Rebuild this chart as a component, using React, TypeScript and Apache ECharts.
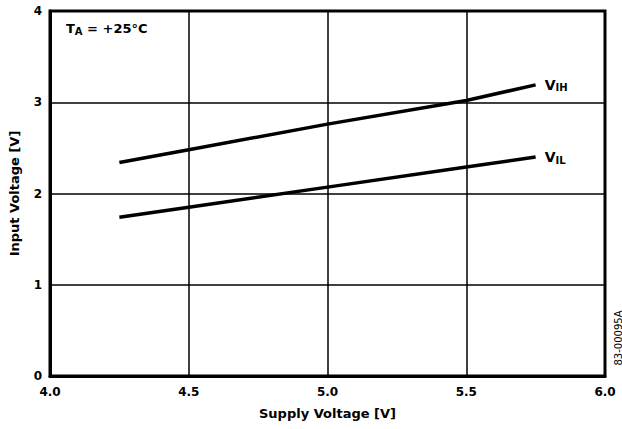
import React, { useEffect, useRef } from "react";
import * as echarts from "echarts";

const supplyV = [4.25, 4.5, 5.0, 5.5, 5.75];
const vihValues = [2.34, 2.48, 2.76, 3.02, 3.19];
const vilValues = [1.74, 1.85, 2.07, 2.29, 2.4];
const xTicks = [4.0, 4.5, 5.0, 5.5, 6.0];
const yTicks = [0, 1, 2, 3, 4];

const FONT = "'DejaVu Sans', 'Liberation Sans', Arial, sans-serif";

export default function App() {
  const ref = useRef<HTMLDivElement>(null);
  useEffect(() => {
    if (!ref.current) return;
    const chart = echarts.init(ref.current, undefined, { renderer: "svg" });
    const pair = (xs: number[], ys: number[]) => xs.map((x, i) => [x, ys[i]]);
    const endLabel = (sub: string) => ({
      show: true,
      distance: 9,
      formatter: `{v|V}{s|${sub}}`,
      rich: {
        v: { fontFamily: FONT, fontWeight: "bold", fontSize: 14, color: "#000" },
        s: { fontFamily: FONT, fontWeight: "bold", fontSize: 10, color: "#000", padding: [6, 0, 0, 0] },
      },
    });
    chart.setOption({
      animation: false,
      backgroundColor: "#fff",
      textStyle: { fontFamily: FONT },
      grid: {
        left: 48,
        right: 17,
        top: 11,
        bottom: 53,
        show: true,
        borderColor: "#000",
        borderWidth: 3,
      },
      xAxis: {
        type: "value",
        min: 4.0,
        max: 6.0,
        interval: 0.5,
        name: "Supply Voltage [V]",
        nameLocation: "middle",
        nameGap: 31,
        nameTextStyle: { fontFamily: FONT, fontWeight: "bold", fontSize: 13, color: "#000" },
        axisLine: { show: true, lineStyle: { color: "#000", width: 3 } },
        axisTick: { show: false },
        axisLabel: {
          fontFamily: FONT,
          fontWeight: "bold",
          fontSize: 12,
          color: "#000",
          margin: 10,
          formatter: (v: number) => (xTicks.includes(v) ? v.toFixed(1) : ""),
        },
        splitLine: { show: true, lineStyle: { color: "#000", width: 1.5 } },
      },
      yAxis: {
        type: "value",
        min: 0,
        max: 4,
        interval: 1,
        name: "Input Voltage [V]",
        nameLocation: "middle",
        nameGap: 29,
        nameTextStyle: { fontFamily: FONT, fontWeight: "bold", fontSize: 13, color: "#000" },
        axisLine: { show: true, lineStyle: { color: "#000", width: 3 } },
        axisTick: { show: false },
        axisLabel: {
          fontFamily: FONT,
          fontWeight: "bold",
          fontSize: 12,
          color: "#000",
          margin: 8,
          formatter: (v: number) => (yTicks.includes(v) ? String(v) : ""),
        },
        splitLine: { show: true, lineStyle: { color: "#000", width: 1.5 } },
      },
      series: [
        {
          name: "VIH",
          type: "line",
          data: pair(supplyV, vihValues),
          symbol: "none",
          lineStyle: { color: "#000", width: 3.5 },
          endLabel: endLabel("IH"),
        },
        {
          name: "VIL",
          type: "line",
          data: pair(supplyV, vilValues),
          symbol: "none",
          lineStyle: { color: "#000", width: 3.5 },
          endLabel: endLabel("IL"),
        },
      ],
      graphic: [
        {
          type: "text",
          left: 66,
          top: 22,
          style: {
            text: "{t|T}{s|A}{t| = +25°C}",
            rich: {
              t: { fontFamily: FONT, fontWeight: "bold", fontSize: 13, fill: "#000" },
              s: { fontFamily: FONT, fontWeight: "bold", fontSize: 10, fill: "#000", padding: [6, 0, 0, 0] },
            },
          },
        },
        {
          type: "text",
          x: 618,
          y: 338,
          rotation: Math.PI / 2,
          style: {
            text: "83-00095A",
            fontFamily: FONT,
            fontSize: 10,
            fill: "#000",
            align: "center",
            verticalAlign: "middle",
          },
        },
      ],
    });
    return () => chart.dispose();
  }, []);
  return (
    <div
      ref={ref}
      style={{ position: "fixed", left: 0, top: 0, width: 622, height: 429, background: "#fff" }}
    />
  );
}
